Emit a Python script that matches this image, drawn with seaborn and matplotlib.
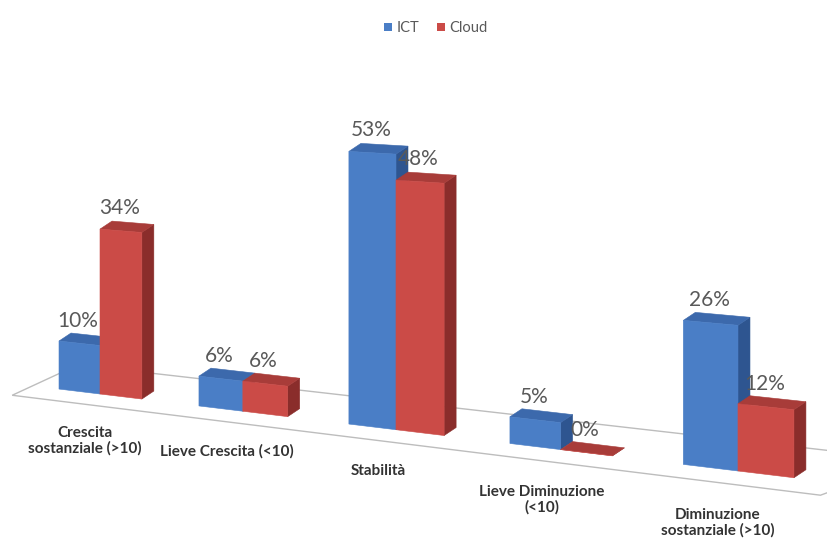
import numpy as np
import pandas as pd
import matplotlib
matplotlib.use("Agg")
import matplotlib.pyplot as plt
import seaborn as sns
from matplotlib.transforms import Transform, Affine2D
from matplotlib.patches import Polygon

# ---- data -------------------------------------------------------------
categories = [
    "Crescita\nsostanziale (>10)",
    "Lieve Crescita (<10)",
    "Stabilità",
    "Lieve Diminuzione\n(<10)",
    "Diminuzione\nsostanziale (>10)",
]
series = ["ICT", "Cloud"]
ict_pct = [10, 6, 53, 5, 26]
cloud_pct = [34, 6, 48, 0, 12]

df = pd.DataFrame({
    "categoria": categories * 2,
    "serie": ["ICT"] * len(categories) + ["Cloud"] * len(categories),
    "pct": ict_pct + cloud_pct,
})

# ---- style ------------------------------------------------------------
sns.set_style("white")
plt.rcParams["font.family"] = ["Lato", "DejaVu Sans"]

FRONT = {"ICT": "#4A7EC6", "Cloud": "#CB4B47"}
TOP = {"ICT": "#3C69AC", "Cloud": "#A83C39"}
SIDE = {"ICT": "#2E5590", "Cloud": "#8A2D2B"}
TEXT_GREY = "#595959"
LABEL_GREY = "#333333"

W_PX, H_PX = 827, 542
DEPTH = np.array([12.0, -8.0])      # pixel offset of the back of each box

# perspective of the bar plane: (category, percent) -> image pixels
PLANE = np.array([
    [134.68, 0.0, 100.0],
    [3.41, -4.85, 394.0],
    [-0.033626, 0.0, 1.0],
])


class FrontPlane(Transform):
    """Projective mapping of the vertical plane holding the bar fronts."""
    input_dims = output_dims = 2

    def __init__(self, m):
        super().__init__()
        self.m = np.asarray(m, float)

    def transform_non_affine(self, values):
        v = np.asarray(values, float).reshape(-1, 2)
        h = np.column_stack([v, np.ones(len(v))]) @ self.m.T
        return h[:, :2] / h[:, 2:3]


fig = plt.figure(figsize=(W_PX / 100, H_PX / 100), dpi=100)
ax = fig.add_axes([0, 0, 1, 1])

to_fig = Affine2D().scale(1 / W_PX, -1 / H_PX).translate(0, 1) + fig.transFigure
proj = FrontPlane(PLANE)
plane = proj + to_fig

sns.barplot(data=df, x="categoria", y="pct", hue="serie", order=categories,
            hue_order=series, palette=FRONT, saturation=1, width=0.6,
            errorbar=None, linewidth=0, ax=ax)
ax.set_axis_off()

# floor of the chart
floor_x = [-0.65, 4.44, 4.93, -0.16]
floor_y = [-2.5, -2.5, 5.5, 5.5]
ax.add_patch(Polygon(np.column_stack([floor_x, floor_y]), closed=True,
                     transform=plane, facecolor="white", edgecolor="#BDBDBD",
                     linewidth=1.0, zorder=1, clip_on=False))

# boxes: front face from seaborn, top and side faces derived from it
z = 2.0
for ci in range(len(categories)):
    for container, name in zip(ax.containers, series):
        bar = container.patches[ci]
        x0, y0, w, h = bar.get_x(), bar.get_y(), bar.get_width(), bar.get_height()
        bl, br, tr, tl = proj.transform([(x0, y0), (x0 + w, y0),
                                         (x0 + w, y0 + h), (x0, y0 + h)])
        side = [tr, br, br + DEPTH, tr + DEPTH]
        top = [tl, tr, tr + DEPTH, tl + DEPTH]
        ax.add_patch(Polygon(side, closed=True, transform=to_fig,
                             facecolor=SIDE[name], edgecolor=SIDE[name],
                             linewidth=0.4, zorder=z, clip_on=False))
        ax.add_patch(Polygon(top, closed=True, transform=to_fig,
                             facecolor=TOP[name], edgecolor=TOP[name],
                             linewidth=0.4, zorder=z + 0.1, clip_on=False))
        bar.set_transform(plane)
        bar.set_clip_on(False)
        bar.set_edgecolor(FRONT[name])
        bar.set_linewidth(0.4)
        bar.set_zorder(z + 0.2)
        z += 1

        ax.annotate(f"{h:.0f}%", xy=(x0 + w / 2, y0 + h), xycoords=plane,
                    xytext=(-1, 12), textcoords="offset points",
                    ha="center", va="baseline", fontsize=15,
                    color=TEXT_GREY, zorder=100, annotation_clip=False)

# category labels under the floor
for ci, name in enumerate(categories):
    ax.text(ci - 0.11, -7, name, transform=plane, ha="center", va="top",
            fontsize=11, fontweight="bold", color=LABEL_GREY,
            linespacing=1.1, clip_on=False)

sns.move_legend(ax, "upper center", bbox_to_anchor=(0.527, 0.985), ncol=2,
                title=None, frameon=False, fontsize=10.5, handlelength=0.55,
                handleheight=0.5, handletextpad=0.3, columnspacing=1.2)
for t in ax.get_legend().get_texts():
    t.set_color(TEXT_GREY)

fig.savefig("out.png", dpi=100)
